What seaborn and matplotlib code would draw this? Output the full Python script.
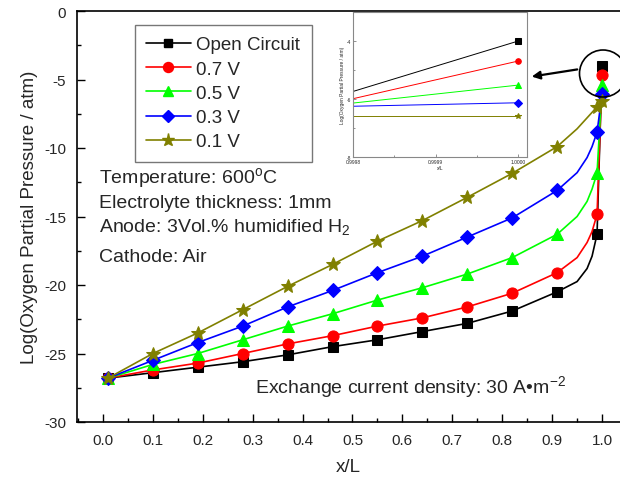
import numpy as np
import matplotlib
matplotlib.use("Agg")
import matplotlib.pyplot as plt
from matplotlib.lines import Line2D
from matplotlib.patches import Ellipse
from matplotlib.ticker import MultipleLocator, FixedLocator
import seaborn as sns

# marker positions (x/L) and values
x_mark = [0.01, 0.10, 0.19, 0.28, 0.37, 0.46, 0.55, 0.64, 0.73, 0.82, 0.91, 0.99, 1.00]
open_circuit = [-26.8, -26.4, -26.0, -25.6, -25.1, -24.5, -24.0, -23.4, -22.8, -21.9, -20.5, -16.3, -4.0]
v07 = [-26.8, -26.2, -25.7, -25.0, -24.3, -23.7, -23.0, -22.4, -21.6, -20.6, -19.1, -14.85, -4.7]
v05 = [-26.8, -25.8, -25.0, -24.0, -23.0, -22.1, -21.1, -20.2, -19.2, -18.0, -16.3, -11.85, -5.4]
v03 = [-26.8, -25.5, -24.2, -23.0, -21.6, -20.4, -19.1, -17.9, -16.5, -15.1, -13.1, -8.85, -6.05]
v01 = [-26.8, -25.0, -23.5, -21.8, -20.1, -18.5, -16.8, -15.3, -13.6, -11.85, -9.9, -7.0, -6.55]

# extra curve points (no markers) read near the steep end
x_tail = [0.95, 0.97, 0.98]
open_tail = [-19.75, -18.8, -17.9]
v07_tail = [-18.0, -16.9, -16.1]
v05_tail = [-15.0, -13.9, -13.0]
v03_tail = [-11.8, -10.7, -9.9]
v01_tail = [-8.6, -7.8, -7.4]

labels = ["Open Circuit", "0.7 V", "0.5 V", "0.3 V", "0.1 V"]
colors = ["#000000", "#ff0000", "#00ff00", "#0000ff", "#808000"]
markers = ["s", "o", "^", "D", "*"]
msizes = [7, 8, 8.5, 7, 10.5]

# inset (zoom near x/L = 1)
inset_x = [0.9998, 1.0]
inset_vals = [[-5.74, -4.0], [-5.99, -4.69], [-6.14, -5.52], [-6.25, -6.13], [-6.58, -6.58]]

sns.set_style("ticks")
plt.rcParams["font.family"] = ["Liberation Sans", "DejaVu Sans"]
plt.rcParams["mathtext.fontset"] = "custom"
plt.rcParams["mathtext.rm"] = "Liberation Sans"
plt.rcParams["mathtext.it"] = "Liberation Sans:italic"
plt.rcParams["axes.unicode_minus"] = False

W, H = 620, 481
fig = plt.figure(figsize=(W / 100, H / 100), dpi=100)
ax = fig.add_axes([77 / W, 1 - 423 / H, (620 - 77) / W, (423 - 12) / H])

series = [open_circuit, v07, v05, v03, v01]
tails = [open_tail, v07_tail, v05_tail, v03_tail, v01_tail]
for vals, tail, c, m, ms in zip(series, tails, colors, markers, msizes):
    xs = np.array(x_mark + x_tail)
    ys = np.array(vals + tail)
    order = np.argsort(xs, kind="stable")
    xs, ys = xs[order], ys[order]
    mark_idx = [int(np.where(order == i)[0][0]) for i in range(len(x_mark))]
    sns.lineplot(x=xs, y=ys, ax=ax, color=c, lw=1.2, marker=m, ms=ms,
                 mec=c, mfc=c, markevery=mark_idx, estimator=None, sort=False,
                 clip_on=False)

ax.set_xlim(-0.052, 1.036)
ax.set_ylim(-30, 0)
ax.xaxis.set_major_locator(FixedLocator(np.round(np.arange(0, 1.01, 0.1), 1)))
ax.xaxis.set_minor_locator(MultipleLocator(0.05))
ax.yaxis.set_major_locator(MultipleLocator(5))
ax.yaxis.set_minor_locator(MultipleLocator(2.5))
ax.tick_params(which="both", direction="in", top=False, right=False, width=1, color="black")
ax.tick_params(which="major", length=6, labelsize=11, pad=8)
ax.tick_params(which="minor", length=3)
ax.set_xticklabels([f"{v:.1f}" for v in np.arange(0, 1.01, 0.1)])
ax.set_xlabel("x/L", fontsize=13.5, labelpad=8)
ax.set_ylabel("Log(Oxygen Partial Pressure / atm)", fontsize=13.5, labelpad=4)
for s in ax.spines.values():
    s.set_color("black")
    s.set_linewidth(1.2)
ax.spines["right"].set_visible(False)

handles = [Line2D([], [], color=c, marker=m, ms=ms * 0.9, lw=1.2, mec=c, mfc=c)
           for c, m, ms in zip(colors, markers, msizes)]
leg = ax.legend(handles, labels, loc="upper left", bbox_to_anchor=(0.106, 0.966),
                borderaxespad=0, fontsize=13.5, frameon=True, fancybox=False,
                handlelength=2.4, handletextpad=0.3, labelspacing=0.38,
                borderpad=0.6)
leg.get_frame().set_edgecolor("#555555")
leg.get_frame().set_linewidth(1.0)

tkw = dict(transform=ax.transAxes, fontsize=14, va="baseline", ha="left")
ax.text(0.041, 0.584, "Temperature: 600$^{\\mathrm{o}}$C", **tkw)
ax.text(0.041, 0.524, "Electrolyte thickness: 1mm", **tkw)
ax.text(0.041, 0.465, "Anode: 3Vol.% humidified H$_2$", **tkw)
ax.text(0.041, 0.392, "Cathode: Air", **tkw)
ax.text(0.328, 0.073, "Exchange current density: 30 A\u2022m$^{-2}$", **tkw)

# circle around the end points and arrow to the inset
fig.add_artist(Ellipse((603 / W, 1 - 74.5 / H), 47 / W, 47 / H, transform=fig.transFigure,
                       fill=False, ec="black", lw=1.2))
ax.annotate("", xy=(529, H - 78), xytext=(580, H - 70), xycoords="figure pixels",
            textcoords="figure pixels",
            arrowprops=dict(arrowstyle="-|>", color="black", lw=1.6, mutation_scale=12))

# inset
ins = fig.add_axes([353 / W, 1 - 158 / H, 174 / W, 145 / H])
for vals, c, m in zip(inset_vals, colors, markers):
    sns.lineplot(x=inset_x, y=vals, ax=ins, color=c, lw=0.7, marker=m, ms=4,
                 mec=c, mfc=c, markevery=[1], estimator=None, sort=False)
ins.set_xlim(0.9998, 1.0000105)
ins.set_ylim(-8, -3)
ins.xaxis.set_major_locator(FixedLocator([0.9998, 0.9999, 1.0]))
ins.xaxis.set_minor_locator(FixedLocator([0.99985, 0.99995]))
ins.set_xticklabels(["0.9998", "0.9999", "1.0000"])
ins.yaxis.set_major_locator(FixedLocator([-8, -6, -4]))
ins.yaxis.set_minor_locator(FixedLocator([-7, -5, -3]))
ins.set_yticklabels(["-8", "-6", "-4"])
ins.tick_params(which="both", direction="in", labelsize=3.5, width=0.5, color="#666666", pad=1.5)
ins.tick_params(which="major", length=2.5)
ins.tick_params(which="minor", length=1.5)
ins.set_xlabel("x/L", fontsize=3.5, labelpad=1)
ins.set_ylabel("Log(Oxygen Partial Pressure / atm)", fontsize=3.5, labelpad=1)
for s in ins.spines.values():
    s.set_color("#888888")
    s.set_linewidth(0.8)

fig.savefig("out.png", dpi=100)
